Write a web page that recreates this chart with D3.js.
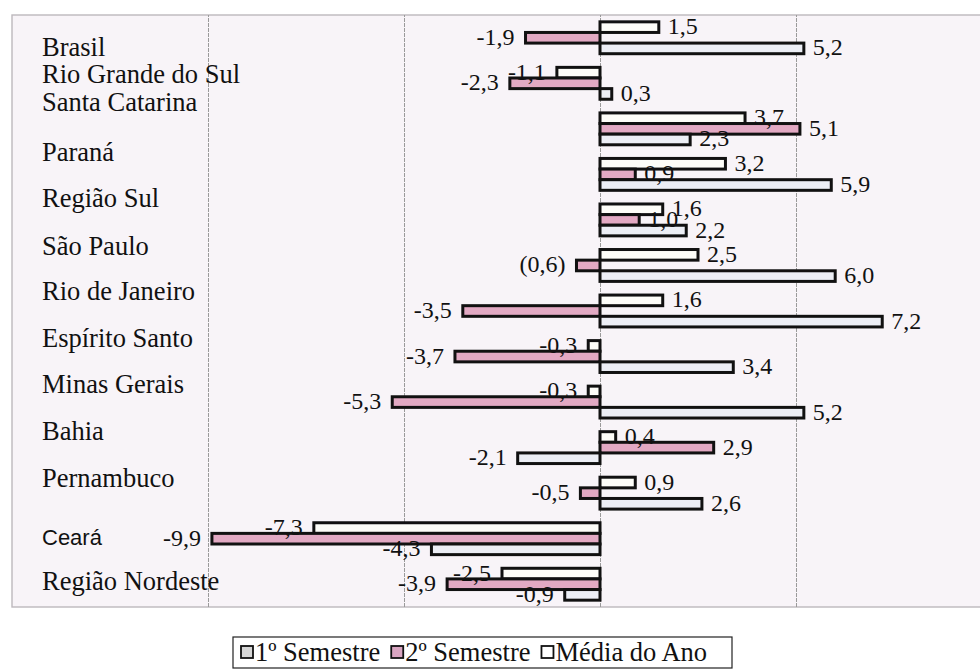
<!DOCTYPE html>
<html>
<head>
<meta charset="utf-8">
<script src="https://cdn.jsdelivr.net/npm/d3@7/dist/d3.min.js"></script>
<style>
  html, body { margin: 0; padding: 0; background: #ffffff; }
  svg { display: block; }
</style>
</head>
<body>
<svg id="chart" width="980" height="670"></svg>
<script>
// ---------------- DATA ----------------
const categories = [
  "Brasil", "Rio Grande do Sul", "Santa Catarina", "Paraná", "Região Sul",
  "São Paulo", "Rio de Janeiro", "Espírito Santo", "Minas Gerais", "Bahia",
  "Pernambuco", "Ceará", "Região Nordeste"
];
const seriesNames = ["1º Semestre", "2º Semestre", "Média do Ano"];
const sem1  = [1.5, -1.1, 3.7, 3.2, 1.6, 2.5, 1.6, -0.3, -0.3, 0.4, 0.9, -7.3, -2.5];
const sem2  = [-1.9, -2.3, 5.1, 0.9, 1.0, -0.6, -3.5, -3.7, -5.3, 2.9, -0.5, -9.9, -3.9];
const media = [5.2, 0.3, 2.3, 5.9, 2.2, 6.0, 7.2, 3.4, 5.2, -2.1, 2.6, -4.3, -0.9];
const xTicks = [-10, -5, 0, 5];
const xDomain = [-15, 10];
// labels printed differently in the source
const labelOverrides = { "São Paulo|2º Semestre": "(0,6)" };
const sansCategories = ["Ceará"];

// ---------------- STYLE / LAYOUT ----------------
const barFill    = ["#fdfdf8", "#e2a9c3", "#eceef5"];
const legendFill = ["#d6d6d6", "#d9a5c1", "#ffffff"];
const labelDy = [34, 16, -2, 3, 3, 5, 5, 6, 7, 8, 10, 22, 22];

const svg = d3.select("#chart");
const plot = { left: 12, right: 992, top: 15, bottom: 607 };

const x = d3.scaleLinear().domain(xDomain).range([plot.left, plot.right]);
const y0 = d3.scaleBand().domain(categories).range([plot.top, plot.bottom])
  .paddingInner(0.3).paddingOuter(0.15);
const y1 = d3.scaleBand().domain(seriesNames).range([0, y0.bandwidth()]);
const color = d3.scaleOrdinal().domain(seriesNames).range(barFill);

const valuesBySeries = [sem1, sem2, media];
const data = categories.map((c, i) => ({
  cat: c,
  vals: seriesNames.map((s, j) => ({ cat: c, series: s, value: valuesBySeries[j][i] }))
}));

// plot background
svg.append("rect")
  .attr("x", plot.left).attr("y", plot.top)
  .attr("width", plot.right - plot.left).attr("height", plot.bottom - plot.top)
  .attr("fill", "#f8f4f8")
  .attr("stroke", "#bdb8bd").attr("stroke-width", 1.4);

// vertical gridlines via axis
const gridAxis = d3.axisBottom(x).tickValues(xTicks)
  .tickSize(-(plot.bottom - plot.top)).tickFormat("");
const grid = svg.append("g")
  .attr("transform", `translate(0,${plot.bottom})`)
  .call(gridAxis);
grid.select(".domain").remove();
grid.selectAll(".tick line")
  .attr("stroke", "#9a9a9a").attr("stroke-width", 1)
  .attr("stroke-dasharray", "4,1");

// category labels
svg.append("g").selectAll("text")
  .data(categories)
  .join("text")
  .attr("x", 42)
  .attr("y", (d, i) => y0(d) + labelDy[i])
  .attr("font-family", d => sansCategories.includes(d) ? "'Liberation Sans', Arial, sans-serif" : "'Liberation Serif', 'Times New Roman', serif")
  .attr("font-size", d => sansCategories.includes(d) ? 22 : 26.5)
  .attr("fill", "#111")
  .text(d => d);

// bars
const groups = svg.append("g").selectAll("g")
  .data(data)
  .join("g")
  .attr("transform", d => `translate(0,${y0(d.cat)})`);

groups.selectAll("rect")
  .data(d => d.vals)
  .join("rect")
  .attr("x", d => x(Math.min(0, d.value)))
  .attr("y", d => y1(d.series))
  .attr("width", d => Math.abs(x(d.value) - x(0)))
  .attr("height", y1.bandwidth())
  .attr("fill", d => color(d.series))
  .attr("stroke", "#111")
  .attr("stroke-width", 3);

// value labels
const fmt = v => v.toFixed(1).replace(".", ",");
groups.selectAll("text")
  .data(d => d.vals)
  .join("text")
  .attr("x", d => d.value >= 0 ? x(d.value) + 9 : x(d.value) - 11)
  .attr("y", d => y1(d.series) + y1.bandwidth() / 2 + 7)
  .attr("text-anchor", d => d.value >= 0 ? "start" : "end")
  .attr("font-family", "'Liberation Serif', 'Times New Roman', serif")
  .attr("font-size", 24)
  .attr("fill", "#111")
  .text(d => labelOverrides[d.cat + "|" + d.series] || fmt(d.value));

// legend
const legend = { x: 233, y: 637, w: 499, h: 31 };
const lg = svg.append("g");
lg.append("rect")
  .attr("x", legend.x).attr("y", legend.y)
  .attr("width", legend.w).attr("height", legend.h)
  .attr("fill", "#ffffff").attr("stroke", "#222").attr("stroke-width", 1.2);

let cursor = legend.x + 8;
seriesNames.forEach((s, i) => {
  const it = lg.append("g").attr("transform", `translate(${cursor},0)`);
  it.append("rect")
    .attr("x", 0).attr("y", legend.y + 9)
    .attr("width", 12).attr("height", 12)
    .attr("fill", legendFill[i]).attr("stroke", "#111").attr("stroke-width", 1.8);
  const t = it.append("text")
    .attr("x", 14).attr("y", legend.y + 24)
    .attr("font-family", "'Liberation Serif', 'Times New Roman', serif")
    .attr("font-size", 26.5)
    .attr("fill", "#111")
    .text(s);
  cursor += 14 + t.node().getComputedTextLength() + 11;
});
</script>
</body>
</html>
